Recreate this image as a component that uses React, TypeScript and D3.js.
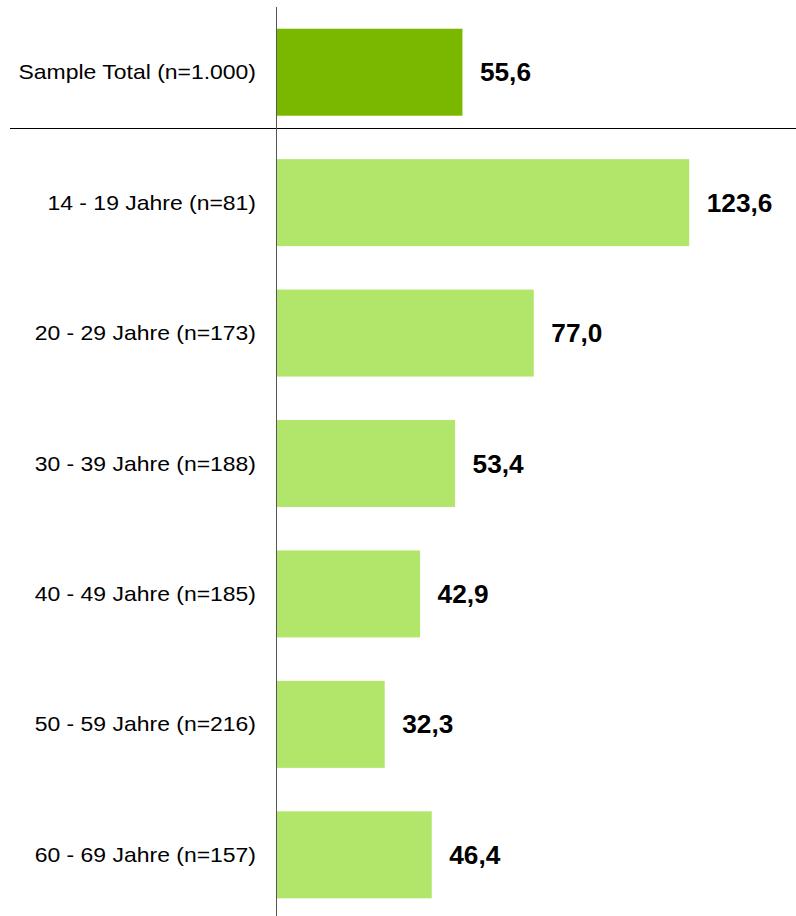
import React, { useEffect, useRef } from "react";
import * as d3 from "d3";

const categories = [
  "Sample Total (n=1.000)",
  "14 - 19 Jahre (n=81)",
  "20 - 29 Jahre (n=173)",
  "30 - 39 Jahre (n=188)",
  "40 - 49 Jahre (n=185)",
  "50 - 59 Jahre (n=216)",
  "60 - 69 Jahre (n=157)",
];
const values = [55.6, 123.6, 77.0, 53.4, 42.9, 32.3, 46.4];

const App = () => {
  const chartRef = useRef<HTMLDivElement>(null);

  useEffect(() => {
    drawChart();
  }, []);

  const drawChart = () => {
    d3.select(chartRef.current).select("svg").remove();

    const width = 796;
    const height = 916;
    const axisX = 276;

    const svg = d3
      .select(chartRef.current)
      .append("svg")
      .attr("width", width)
      .attr("height", height)
      .style("position", "absolute")
      .style("left", 0)
      .style("top", 0)
      .style("font-family", "'Liberation Sans', Arial, sans-serif");

    const data = categories.map((label, i) => ({ label, value: values[i], total: i === 0 }));

    const y = d3
      .scaleBand()
      .domain(categories)
      .range([7, 920])
      .paddingInner(0.333)
      .paddingOuter(0.1665);

    const x = d3.scaleLinear().domain([0, 150]).range([axisX + 1, axisX + 1 + 500.25]);

    // bars
    svg
      .selectAll(".bar")
      .data(data)
      .enter()
      .append("rect")
      .attr("class", "bar")
      .attr("x", x(0))
      .attr("y", (d) => y(d.label)!)
      .attr("width", (d) => x(d.value) - x(0))
      .attr("height", y.bandwidth())
      .attr("fill", (d) => (d.total ? "#7ab800" : "#b2e66a"));

    // category labels
    svg
      .selectAll(".cat")
      .data(data)
      .enter()
      .append("text")
      .attr("class", "cat")
      .attr("transform", (d) => `translate(${axisX - 20},${y(d.label)! + y.bandwidth() / 2 + 7}) scale(1.12,1)`)
      .attr("text-anchor", "end")
      .style("font-size", "20.5px")
      .attr("fill", "#000")
      .text((d) => d.label);

    // value labels
    const fmt = (v: number) => v.toFixed(1).replace(".", ",");
    svg
      .selectAll(".val")
      .data(data)
      .enter()
      .append("text")
      .attr("class", "val")
      .attr("transform", (d) => `translate(${x(d.value) + 17.5},${y(d.label)! + y.bandwidth() / 2 + 9}) scale(1.05,1)`)
      .style("font-size", "25px")
      .style("font-weight", "bold")
      .attr("fill", "#000")
      .text((d) => fmt(d.value));

    // separator under total
    svg
      .append("line")
      .attr("x1", 10)
      .attr("x2", width)
      .attr("y1", 128.5)
      .attr("y2", 128.5)
      .attr("stroke", "#000")
      .attr("stroke-width", 1);

    // vertical axis
    svg
      .append("line")
      .attr("x1", axisX + 0.5)
      .attr("x2", axisX + 0.5)
      .attr("y1", 7)
      .attr("y2", height)
      .attr("stroke", "#555")
      .attr("stroke-width", 1);
  };

  return <div ref={chartRef} />;
};

export default App;
